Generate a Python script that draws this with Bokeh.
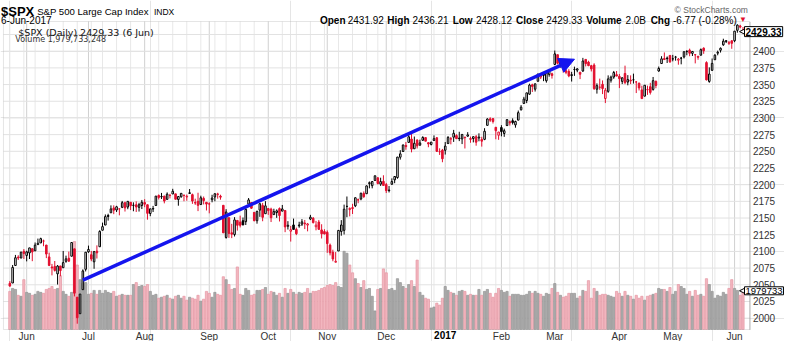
import pandas as pd
from bokeh.plotting import figure
from bokeh.models import (Range1d, Arrow, NormalHead, Label, ColumnDataSource, BoxAnnotation)
from bokeh.embed import file_html
from bokeh.resources import INLINE

# ---------------- data ----------------
FIRST_DAY = "2016-05-23"
LAST_DAY = "2017-06-06"
HOLIDAYS = ["2016-05-30", "2016-07-04", "2016-09-05", "2016-11-24", "2016-12-26",
            "2017-01-02", "2017-01-16", "2017-02-20", "2017-04-14", "2017-05-29"]
PREV_CLOSE = 2052.32

OPEN = [
    2052.23, 2052.65, 2078.93, 2091.44, 2090.06, 2100.13,
    2093.94, 2097.71, 2104.07, 2100.83, 2110.18, 2112.71, 2115.65, 2109.57, 2091.75, 2076.65, 2077.60,
    2066.36, 2078.20, 2075.58, 2085.19, 2089.75, 2092.80, 2103.81, 2031.45, 2006.67, 2042.69, 2073.17,
    2099.34, 2095.05, 2084.43, 2100.42, 2106.97, 2131.72, 2139.50, 2153.81, 2157.88, 2165.13, 2162.04,
    2163.79, 2166.10, 2172.91, 2166.47, 2173.71, 2168.97, 2169.81, 2166.05, 2168.83,
    2173.15, 2169.94, 2156.81, 2163.51, 2168.79, 2183.76, 2182.24, 2182.81, 2177.97, 2183.74, 2186.08,
    2186.24, 2177.84, 2181.90, 2184.24, 2181.58, 2187.81, 2185.09, 2173.29, 2175.10, 2170.19, 2179.45, 2173.56,
    2171.33, 2177.49, 2181.61, 2185.17, 2182.76, 2169.08, 2120.86, 2150.47, 2127.86, 2125.36, 2146.48,
    2143.99, 2145.94, 2144.58, 2170.94, 2173.29, 2158.54, 2146.04, 2161.85, 2168.90, 2156.51,
    2164.33, 2163.37, 2155.15, 2158.22, 2164.19, 2160.39, 2161.35, 2137.67, 2130.26, 2139.68, 2132.95,
    2138.31, 2140.81, 2142.51, 2139.43, 2148.50, 2149.72, 2136.97, 2144.06, 2132.23, 2129.78,
    2128.68, 2109.43, 2098.80, 2083.79, 2100.59, 2129.92, 2131.56, 2167.49, 2162.71, 2165.64, 2168.29,
    2177.53, 2178.61, 2186.85, 2186.43, 2201.56, 2198.55, 2206.27, 2210.21, 2200.76, 2204.97,
    2200.17, 2191.12, 2200.65, 2207.26, 2210.72, 2241.13, 2249.73, 2258.83, 2263.32, 2268.35, 2253.77,
    2266.81, 2259.24, 2266.50, 2270.54, 2262.93, 2260.25, 2266.23, 2270.23, 2249.50, 2251.61,
    2251.57, 2261.60, 2268.18, 2271.14, 2273.59, 2269.72, 2268.60, 2271.14, 2272.74, 2269.14, 2269.14,
    2271.90, 2269.96, 2267.78, 2267.88, 2288.88, 2298.63, 2299.02, 2286.01, 2274.02,
    2285.59, 2276.69, 2288.54, 2294.28, 2295.87, 2289.55, 2296.70, 2312.27, 2321.72, 2326.12, 2335.58,
    2349.64, 2343.01, 2354.91, 2361.11, 2367.50, 2355.73, 2365.23, 2366.08,
    2380.13, 2394.75, 2380.92, 2375.23, 2370.74, 2369.81, 2363.49, 2372.52, 2371.56, 2368.55, 2370.34,
    2387.71, 2383.71, 2378.24, 2379.32, 2343.00, 2345.97, 2350.42, 2329.11, 2339.79, 2356.54, 2361.31, 2364.82,
    2362.34, 2354.76, 2366.59, 2353.79, 2356.59, 2357.16, 2353.92, 2352.15, 2341.98, 2332.62, 2342.53,
    2346.79, 2342.69, 2354.74, 2370.33, 2381.51, 2388.98, 2389.70, 2393.68,
    2388.50, 2391.05, 2386.50, 2389.79, 2391.37, 2399.94, 2401.58, 2396.79, 2394.84, 2392.44, 2393.98,
    2404.55, 2382.95, 2354.69, 2371.37, 2387.21, 2397.04, 2401.41, 2409.54, 2414.50, 2411.67, 2415.63,
    2415.65, 2431.28, 2437.83, 2431.92,
]
HIGH = [
    2055.58, 2079.67, 2094.73, 2094.30, 2099.06, 2103.48,
    2100.97, 2105.26, 2104.07, 2113.36, 2119.22, 2120.55, 2117.64, 2109.57, 2098.12, 2081.30, 2085.65,
    2079.62, 2078.20, 2100.66, 2093.66, 2099.71, 2113.32, 2103.81, 2031.45, 2036.09, 2073.13, 2098.94,
    2108.71, 2100.72, 2100.72, 2109.08, 2131.71, 2143.16, 2155.40, 2156.45, 2168.99, 2169.05, 2168.35,
    2163.79, 2175.63, 2174.56, 2175.11, 2173.71, 2173.54, 2174.98, 2172.85, 2177.09,
    2178.29, 2170.20, 2163.79, 2168.19, 2182.87, 2185.44, 2187.66, 2183.41, 2188.45, 2186.28, 2193.81,
    2186.24, 2183.08, 2187.03, 2185.00, 2185.15, 2193.42, 2186.66, 2179.00, 2187.94, 2183.48, 2182.27, 2173.79,
    2173.56, 2184.87, 2186.57, 2187.87, 2184.94, 2169.08, 2163.30, 2150.47, 2141.33, 2151.31, 2146.48,
    2153.61, 2150.80, 2165.11, 2179.99, 2173.75, 2158.54, 2161.13, 2172.40, 2172.67, 2175.30,
    2164.41, 2165.46, 2163.95, 2162.93, 2165.86, 2169.60, 2161.56, 2145.36, 2138.19, 2149.19, 2135.61,
    2144.38, 2148.44, 2147.18, 2142.63, 2154.79, 2151.44, 2145.73, 2147.13, 2140.72, 2133.25,
    2131.45, 2111.76, 2102.56, 2099.07, 2132.00, 2146.87, 2170.10, 2182.30, 2165.92, 2171.36, 2180.84,
    2179.22, 2188.06, 2189.89, 2198.70, 2204.80, 2204.72, 2213.35, 2211.14, 2210.46, 2214.10,
    2202.60, 2197.95, 2209.42, 2212.78, 2241.63, 2251.69, 2259.80, 2264.03, 2277.53, 2276.20, 2272.12,
    2268.05, 2267.47, 2272.56, 2271.23, 2263.18, 2263.79, 2273.82, 2271.31, 2254.51, 2253.58,
    2263.88, 2272.82, 2271.50, 2282.10, 2275.49, 2279.27, 2275.32, 2271.78, 2278.68, 2272.08, 2272.01,
    2274.33, 2276.96, 2271.78, 2284.63, 2299.55, 2300.99, 2299.02, 2286.01, 2279.09,
    2289.14, 2283.97, 2298.31, 2296.18, 2299.40, 2295.91, 2311.08, 2319.23, 2331.58, 2337.58, 2351.30,
    2351.31, 2351.16, 2366.71, 2365.13, 2368.26, 2367.34, 2371.54, 2367.79,
    2400.98, 2394.75, 2383.89, 2378.80, 2375.12, 2373.09, 2369.08, 2376.86, 2374.42, 2368.55, 2390.01,
    2388.10, 2385.71, 2379.55, 2381.93, 2351.81, 2358.92, 2356.22, 2344.90, 2363.78, 2363.36, 2370.42, 2370.35,
    2365.87, 2360.53, 2378.36, 2364.16, 2363.76, 2366.37, 2355.22, 2352.72, 2348.26, 2349.14, 2348.35,
    2352.63, 2361.37, 2356.18, 2376.98, 2392.48, 2398.16, 2392.10, 2393.68,
    2394.49, 2392.93, 2389.82, 2391.43, 2399.29, 2401.36, 2403.87, 2399.74, 2395.72, 2392.44, 2404.05,
    2405.77, 2384.87, 2375.74, 2389.06, 2395.46, 2400.85, 2405.58, 2418.71, 2416.68, 2415.26, 2415.99,
    2430.06, 2440.23, 2439.55, 2436.21,
]
LOW = [
    2047.26, 2052.65, 2078.93, 2087.08, 2090.06, 2088.66,
    2085.10, 2088.59, 2085.36, 2100.83, 2110.18, 2112.71, 2107.73, 2089.96, 2078.46, 2064.10, 2069.80,
    2050.37, 2062.84, 2075.58, 2083.02, 2084.36, 2092.80, 2032.57, 1991.68, 2006.67, 2042.69, 2070.00,
    2097.90, 2085.31, 2074.02, 2089.39, 2106.97, 2131.72, 2139.50, 2146.21, 2157.88, 2155.79, 2159.07,
    2154.06, 2164.89, 2159.75, 2163.24, 2161.95, 2160.18, 2159.07, 2159.74, 2163.49,
    2166.21, 2147.58, 2152.77, 2159.07, 2168.79, 2177.85, 2178.61, 2172.00, 2177.97, 2179.42, 2186.08,
    2178.14, 2168.50, 2180.46, 2175.13, 2175.96, 2186.80, 2171.25, 2169.74, 2160.39, 2170.19, 2170.41, 2161.35,
    2157.09, 2173.59, 2175.10, 2179.07, 2177.49, 2127.81, 2119.12, 2120.27, 2119.90, 2122.36, 2131.20,
    2135.91, 2139.17, 2139.57, 2170.94, 2163.97, 2145.04, 2141.55, 2151.79, 2145.20, 2156.51,
    2154.77, 2144.01, 2155.15, 2150.28, 2144.85, 2160.39, 2128.84, 2132.77, 2114.72, 2132.98, 2124.43,
    2135.49, 2138.15, 2133.44, 2130.09, 2146.91, 2141.93, 2131.59, 2132.52, 2119.36, 2125.53,
    2097.85, 2094.00, 2085.23, 2083.79, 2100.59, 2123.56, 2125.35, 2151.17, 2152.49, 2156.08, 2166.38,
    2172.20, 2176.65, 2180.38, 2186.43, 2194.51, 2194.51, 2206.27, 2200.36, 2198.15, 2198.81,
    2187.44, 2188.37, 2199.97, 2202.21, 2208.93, 2237.57, 2249.23, 2252.37, 2263.32, 2248.44, 2253.77,
    2254.24, 2258.21, 2266.14, 2265.15, 2256.08, 2258.84, 2266.15, 2249.11, 2244.56, 2233.62,
    2245.13, 2261.60, 2260.45, 2264.06, 2268.90, 2265.27, 2260.83, 2254.25, 2271.51, 2262.81, 2263.35,
    2258.41, 2265.01, 2257.02, 2266.68, 2288.88, 2294.08, 2291.62, 2268.04, 2267.21,
    2272.44, 2271.65, 2287.88, 2288.57, 2290.16, 2285.38, 2296.61, 2311.10, 2321.42, 2322.17, 2334.81,
    2338.87, 2339.58, 2354.91, 2358.34, 2355.09, 2352.87, 2361.87, 2358.96,
    2380.13, 2380.17, 2375.39, 2367.98, 2365.51, 2361.01, 2354.54, 2363.04, 2368.52, 2358.18, 2368.94,
    2377.18, 2377.64, 2369.66, 2341.90, 2336.45, 2342.13, 2335.74, 2322.25, 2337.63, 2352.94, 2358.58, 2362.60,
    2344.73, 2350.72, 2350.52, 2348.90, 2350.74, 2351.50, 2337.25, 2341.18, 2328.95, 2332.51, 2334.54,
    2335.05, 2340.91, 2344.51, 2369.19, 2381.15, 2386.78, 2382.35, 2382.36,
    2384.83, 2385.82, 2379.75, 2380.35, 2389.14, 2393.92, 2392.44, 2392.79, 2381.74, 2387.19, 2393.94,
    2396.05, 2356.21, 2352.72, 2370.43, 2386.92, 2393.88, 2397.99, 2408.01, 2412.20, 2409.43, 2403.59,
    2413.54, 2427.71, 2434.32, 2428.12,
]
CLOSE = [
    2048.04, 2076.06, 2090.54, 2090.10, 2099.06, 2096.95,
    2099.33, 2105.26, 2099.13, 2109.41, 2112.13, 2119.12, 2115.48, 2096.07, 2079.06, 2075.32, 2071.50,
    2077.99, 2071.22, 2083.25, 2088.90, 2085.45, 2113.32, 2037.41, 2000.54, 2036.09, 2070.77, 2098.86,
    2102.95, 2088.55, 2099.73, 2097.90, 2129.90, 2137.16, 2152.14, 2152.43, 2163.75, 2161.74, 2166.89,
    2163.78, 2173.02, 2165.17, 2175.03, 2168.48, 2169.18, 2166.58, 2170.06, 2173.60,
    2170.84, 2157.03, 2163.79, 2164.25, 2182.87, 2180.89, 2181.74, 2175.49, 2185.79, 2184.05, 2190.15,
    2178.15, 2182.22, 2187.02, 2183.87, 2182.64, 2186.90, 2175.44, 2172.47, 2169.04, 2180.38, 2176.12, 2170.95,
    2170.86, 2179.98, 2186.48, 2186.16, 2181.30, 2127.81, 2159.04, 2127.02, 2125.77, 2147.26, 2139.16,
    2139.12, 2139.76, 2163.12, 2177.18, 2164.69, 2146.10, 2159.93, 2171.37, 2151.13, 2168.27,
    2161.20, 2150.49, 2159.73, 2160.77, 2153.74, 2163.66, 2136.73, 2139.18, 2132.55, 2132.98, 2126.50,
    2139.60, 2144.29, 2141.34, 2141.16, 2151.33, 2143.16, 2139.43, 2133.04, 2126.41, 2126.15,
    2111.72, 2097.94, 2088.66, 2085.18, 2131.52, 2139.56, 2163.26, 2167.48, 2164.45, 2164.20, 2180.39,
    2176.94, 2187.12, 2181.90, 2198.18, 2202.94, 2204.72, 2213.35, 2201.72, 2204.66, 2198.81,
    2191.08, 2191.95, 2204.71, 2212.23, 2241.35, 2246.19, 2259.53, 2256.96, 2271.72, 2253.28, 2262.03,
    2258.07, 2262.53, 2270.76, 2265.18, 2260.96, 2263.79, 2268.88, 2249.92, 2249.26, 2238.83,
    2257.83, 2270.75, 2269.00, 2276.98, 2268.90, 2268.90, 2275.32, 2270.44, 2274.64, 2267.89, 2271.89,
    2263.69, 2271.31, 2265.20, 2280.07, 2298.37, 2296.68, 2294.69, 2280.90, 2278.87,
    2279.55, 2280.85, 2297.42, 2292.56, 2293.08, 2294.67, 2307.87, 2316.10, 2328.25, 2337.58, 2349.25,
    2347.22, 2351.16, 2365.38, 2362.82, 2363.81, 2367.34, 2369.75, 2363.64,
    2395.96, 2381.92, 2383.12, 2375.31, 2368.39, 2362.98, 2364.87, 2372.60, 2373.47, 2365.45, 2385.26,
    2381.38, 2378.25, 2373.47, 2344.02, 2348.45, 2345.96, 2343.98, 2341.59, 2358.57, 2361.13, 2368.06, 2362.72,
    2358.84, 2360.16, 2352.95, 2357.49, 2355.54, 2357.16, 2353.78, 2344.93, 2328.95, 2349.01, 2342.19,
    2338.17, 2355.84, 2348.69, 2374.15, 2388.61, 2387.45, 2388.77, 2384.20,
    2388.33, 2391.17, 2388.13, 2389.52, 2399.29, 2399.38, 2396.92, 2399.63, 2394.44, 2390.90, 2402.32,
    2400.67, 2357.03, 2365.72, 2381.73, 2394.02, 2398.42, 2404.39, 2415.07, 2415.82, 2412.91, 2411.80,
    2430.06, 2439.07, 2436.10, 2429.33,
]
VOLUME_B = [
    1.95, 2.10, 2.05, 1.75, 1.70, 2.55,
    1.90, 1.85, 1.75, 1.80, 1.95, 1.90, 1.85, 2.05, 2.10, 2.20, 2.05, 2.10, 2.75, 1.95, 1.80, 1.70,
    1.90, 4.50, 3.30, 2.55, 2.35, 2.40,
    1.80, 1.85, 2.00, 1.80, 2.00, 1.85, 2.00, 1.90, 1.85, 1.95, 1.70, 1.75, 1.80, 1.75, 1.75, 1.75,
    2.30, 2.40, 2.20, 2.25,
    2.20, 2.30, 1.95, 1.75, 1.80, 1.60, 1.65, 1.70, 1.75, 1.60, 1.55, 1.70, 1.75, 1.60, 1.70, 1.50,
    1.65, 1.60, 1.55, 1.75, 1.45, 1.55, 1.95,
    1.85, 1.65, 1.90, 1.80, 1.75, 2.70, 2.55, 2.30, 2.05, 2.10, 3.20, 1.80, 1.75, 2.10, 2.00, 1.75,
    1.80, 2.00, 2.00, 2.05, 2.15,
    1.80, 1.95, 1.90, 1.75, 1.85, 1.65, 2.10, 1.85, 2.05, 1.90, 1.80, 1.90, 1.85, 1.90, 2.10, 1.85,
    1.95, 1.95, 2.00, 2.10, 2.15,
    2.25, 2.30, 2.25, 2.40, 2.20, 2.15, 4.00, 3.90, 3.30, 2.90, 2.60, 2.35, 2.15, 2.50, 2.05, 2.10,
    1.70, 0.95, 2.05, 2.10, 3.10,
    2.90, 2.05, 2.10, 2.00, 2.60, 2.40, 2.20, 2.10, 2.30, 2.50, 2.20, 3.55, 1.90, 1.75, 1.60, 1.55,
    1.10, 1.15, 1.35, 1.25, 1.60,
    2.20, 2.00, 1.90, 1.85, 1.75, 1.95, 2.00, 1.95, 1.75, 1.80, 1.75, 1.75, 2.05, 1.75, 1.95, 2.05,
    1.85, 1.65, 1.85, 2.10,
    2.00, 1.90, 1.95, 1.70, 1.80, 1.80, 1.80, 1.75, 1.75, 1.80, 1.95, 1.85, 1.95, 1.85, 1.80, 1.70,
    1.85, 1.80, 2.10,
    2.35, 1.90, 1.75, 1.65, 1.70, 1.85, 1.85, 1.85, 1.60, 1.70, 2.00, 1.95, 2.50, 1.60, 2.10, 1.95,
    1.75, 1.80, 1.80, 1.75, 1.70, 1.65, 1.95,
    1.85, 1.70, 1.95, 1.75, 1.70, 1.55, 1.75, 1.60, 1.70, 1.50, 1.70, 1.75, 1.80, 1.85, 2.10, 2.05,
    2.05, 1.95, 2.15,
    1.80, 1.95, 2.30, 2.20, 2.10, 1.80, 1.95, 1.70, 2.00, 1.75, 1.80, 1.70, 2.60, 2.30, 1.95, 1.60,
    1.75, 1.70, 1.90, 1.80, 2.10, 2.55,
    2.10, 2.00, 1.75, 1.98,
]
LAST_VOLUME = 1979733248
LAST_CHANGE = -6.77
MONTH_LABELS = ["Jun", "Jul", "Aug", "Sep", "Oct", "Nov", "Dec", "2017",
                "Feb", "Mar", "Apr", "May", "Jun"]
AXIS_PRICES = [2000, 2025, 2050, 2075, 2100, 2125, 2150, 2175, 2200, 2225, 2250,
               2275, 2300, 2325, 2350, 2375, 2400]
GRID_PRICES = AXIS_PRICES + [2425]
ARROW_FROM = ("2016-06-29", 2057.0)
ARROW_TO = ("2017-03-10", 2388.0)

# ---------------- derived ----------------
DATES = [d for d in pd.bdate_range(FIRST_DAY, LAST_DAY) if d.strftime("%Y-%m-%d") not in HOLIDAYS]
n = len(CLOSE)
DATES = DATES[:n]
pos = {d.strftime("%Y-%m-%d"): i for i, d in enumerate(DATES)}
xs = list(range(n))
prev = [PREV_CLOSE] + CLOSE[:-1]
up = [c >= pc for c, pc in zip(CLOSE, prev)]
RED = "#e2102f"
BLACK = "#000000"
BLUE = "#1414ee"
FONT = "Liberation Sans"
col = [BLACK if u else RED for u in up]
fill = ["#ffffff" if c > o else k for o, c, k in zip(OPEN, CLOSE, col)]
src = ColumnDataSource(dict(
    x=xs, open=OPEN, high=HIGH, low=LOW, close=CLOSE,
    top=[max(o, c) for o, c in zip(OPEN, CLOSE)],
    bot=[min(o, c) for o, c in zip(OPEN, CLOSE)],
    col=col, fill=fill, vol=VOLUME_B,
    vfill=["#ababab" if u else "#f2b6bf" for u in up],
    vline=["#939393" if u else "#e597a4" for u in up],
))
week_idx = [i for i in xs if i == 0 or DATES[i].isocalendar()[1] != DATES[i - 1].isocalendar()[1]]
month_idx = [i for i in xs if i > 0 and DATES[i].month != DATES[i - 1].month]

# ---------------- layout (canvas pixels) ----------------
W, H = 784, 341
SX = 0.99                                     # horizontal squeeze of the 800px design


def rx(ref_x):
    return SX * ref_x


BL, BR, BT, BB = rx(3), rx(757), 21, 329      # price/volume box
PXX = 2.8375 * SX                             # px per trading day
X0 = (n - 1) - rx(750) / PXX                  # day index at canvas x = 0
PXY = (BB - BT) / (2444.5 - 1983.0)           # px per index point
P_AT_BT = 2444.5                              # price at box top
VPX = 20.5 * (BB - BT) / 323.0                # px per billion shares


def cx(px):
    return X0 + px / PXX


def cy(py):
    return P_AT_BT - (py - BT) / PXY


def cv(py):
    return (BB - py) / VPX


p = figure(width=W, height=H, x_range=Range1d(cx(0), cx(W)), y_range=Range1d(cy(H), cy(0)),
           output_backend="svg", toolbar_location=None, x_axis_location=None, y_axis_location=None,
           min_border=0, min_border_left=0, min_border_right=0, min_border_top=0,
           min_border_bottom=0, background_fill_color="white", border_fill_color="white",
           outline_line_color=None)
p.extra_y_ranges = {"vol": Range1d(cv(H), cv(0))}

xb0, xb1 = cx(BL), cx(BR)
yb0, yb1 = cy(BB), cy(BT)
wk = [i for i in week_idx if i not in month_idx]
p.segment(x0=wk, y0=[yb0] * len(wk), x1=wk, y1=[yb1] * len(wk), line_color="#e8e8e8", line_width=1)
p.segment(x0=month_idx, y0=[yb0] * len(month_idx), x1=month_idx, y1=[yb1] * len(month_idx),
          line_color="#d0d0d0", line_width=1)
p.segment(x0=[xb0] * len(GRID_PRICES), y0=GRID_PRICES, x1=[xb1] * len(GRID_PRICES), y1=GRID_PRICES,
          line_color="#e2e2e2", line_width=1)

p.vbar(x="x", top="vol", bottom=0, width=0.8, fill_color="vfill", line_color="vline",
       line_width=0.7, source=src, y_range_name="vol")
p.segment(x0="x", y0="high", x1="x", y1="low", line_color="col", line_width=1, source=src)
p.vbar(x="x", top="top", bottom="bot", width=0.56, fill_color="fill", line_color="col",
       line_width=1, source=src)

p.add_layout(BoxAnnotation(left=xb0, right=xb1, bottom=yb0, top=yb1, fill_alpha=0,
                           line_color="#a8a8a8", line_width=1))
p.segment(x0=[xb1], y0=[yb0], x1=[xb1], y1=[yb1], line_color="#7a7a7a", line_dash="1 1")

p.add_layout(Arrow(x_start=pos[ARROW_FROM[0]], y_start=ARROW_FROM[1],
                   x_end=pos[ARROW_TO[0]], y_end=ARROW_TO[1],
                   line_color=BLUE, line_width=3.5,
                   end=NormalHead(size=15, fill_color=BLUE, line_color=BLUE)))


def put(text, x, y, size, bold=False, color="#000000", font=FONT, align="left",
        baseline="alphabetic", **kw):
    p.add_layout(Label(x=x, y=y, text=text, text_font=font,
                       text_font_size=f"{size}px", text_font_style="bold" if bold else "normal",
                       text_color=color, text_align=align, text_baseline=baseline, **kw))


# price scale on the right
for v in AXIS_PRICES:
    put(str(v), cx(BR + 3), v, 10, color="#333333", baseline="middle")

# month labels on the time axis
for i, lab in zip(month_idx, MONTH_LABELS):
    yr = lab.isdigit()
    put(lab, i, cy(BB + 1), 10, bold=yr, color="#000000" if yr else "#333333",
        align="center", baseline="top")

# header
put("$SPX", cx(0.5), cy(11), 13, bold=True)
put("S&P 500 Large Cap Index", cx(rx(37)), cy(11), 9.6)
put("INDX", cx(rx(155)), cy(11), 8.5)
put("6-Jun-2017", cx(0.5), cy(19.5), 10)
put("\u00a9 StockCharts.com", cx(rx(755)), cy(9), 8.5, color="#666666", align="right")
last = n - 1
chg_pct = LAST_CHANGE / CLOSE[last - 1] * 100
header = [("Open", True, 322.7), (f"{OPEN[last]:.2f}", False, 350.7),
          ("High", True, 390.7), (f"{HIGH[last]:.2f}", False, 416.2),
          ("Low", True, 456.7), (f"{LOW[last]:.2f}", False, 480.2),
          ("Close", True, 520.7), (f"{CLOSE[last]:.2f}", False, 551.2),
          ("Volume", True, 591.7), (f"{LAST_VOLUME / 1e9:.1f}B", False, 631.2),
          ("Chg", True, 656.7), (f"{LAST_CHANGE:.2f} ({chg_pct:.2f}%)", False, 679.2)]
for t, b, ref_x in header:
    put(t, cx(rx(ref_x)), cy(19.5), 10, bold=b)
put("\u25bc", cx(rx(746)), cy(19), 8, color=RED)

# legend inside the box
put(f"$SPX (Daily) {CLOSE[last]:.2f} (6 Jun)", cx(rx(18)), cy(31.5), 9.5, font="DejaVu Sans",
    color="#111111")
put(f"Volume {LAST_VOLUME:,}", cx(rx(15)), cy(38.5), 8, font="DejaVu Sans", color="#333333")

# last-value tags on the right
for yv, rng, txt, bold, fs in [(CLOSE[last], "default", f"{CLOSE[last]:.2f}", True, 10),
                               (VOLUME_B[last], "vol", f"{LAST_VOLUME // 1000}", False, 9.5)]:
    p.add_layout(Arrow(x_start=cx(744), y_start=yv, x_end=cx(739), y_end=yv,
                       y_range_name=rng, line_alpha=0,
                       end=NormalHead(size=6, fill_color="white", line_color="black",
                                      line_width=1)))
    p.add_layout(Label(x=cx(744), y=yv, y_range_name=rng, text=txt, text_font=FONT,
                       text_font_size=f"{fs}px", text_font_style="bold" if bold else "normal",
                       text_color="#000000", text_baseline="middle",
                       background_fill_color="white", border_line_color="#000000",
                       border_line_width=1, padding=1))

open("out.html", "w").write(file_html(p, INLINE))
